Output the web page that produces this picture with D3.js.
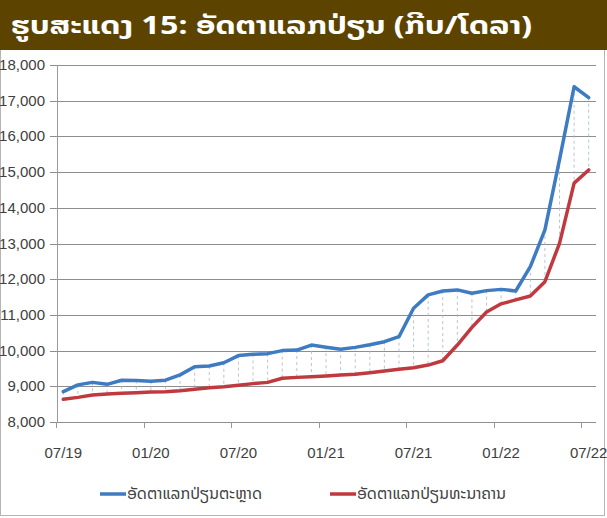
<!DOCTYPE html>
<html>
<head>
<meta charset="utf-8">
<script src="https://cdn.jsdelivr.net/npm/d3@7"></script>
<style>
  html, body { margin: 0; padding: 0; background: #fff; }
  svg { display: block; }
</style>
</head>
<body>
<svg id="chart" width="607" height="518"></svg>
<script>
const months = [
  "07/19","08/19","09/19","10/19","11/19","12/19",
  "01/20","02/20","03/20","04/20","05/20","06/20",
  "07/20","08/20","09/20","10/20","11/20","12/20",
  "01/21","02/21","03/21","04/21","05/21","06/21",
  "07/21","08/21","09/21","10/21","11/21","12/21",
  "01/22","02/22","03/22","04/22","05/22","06/22",
  "07/22"
];
const tickLabels = ["07/19", "01/20", "07/20", "01/21", "07/21", "01/22", "07/22"];

// market rate (blue)
const marketRate = [
  8850, 9040, 9110, 9055, 9170, 9160,
  9140, 9170, 9320, 9550, 9570, 9660,
  9860, 9895, 9915, 10000, 10015, 10155,
  10095, 10040, 10090, 10165, 10250, 10390,
  11185, 11560, 11670, 11700, 11605, 11680,
  11715, 11670, 12350, 13380, 15350, 17390,
  17085
];
// bank rate (red)
const bankRate = [
  8635, 8690, 8755, 8785, 8805, 8820,
  8840, 8845, 8875, 8915, 8960, 8990,
  9030, 9075, 9110, 9225, 9250, 9270,
  9290, 9315, 9335, 9380, 9430, 9475,
  9520, 9595, 9715, 10155, 10650, 11080,
  11310, 11420, 11530, 11930, 13005, 14690,
  15060
];
const yTicks = [8000, 9000, 10000, 11000, 12000, 13000, 14000, 15000, 16000, 17000, 18000];

const titleText = "ຮູບສະແດງ 15: ອັດຕາແລກປ່ຽນ (ກີບ/ໂດລາ)";
const seriesNames = ["ອັດຕາແລກປ່ຽນຕະຫຼາດ", "ອັດຕາແລກປ່ຽນທະນາຄານ"];
const blue = "#3d7bc2";
const red = "#c0393f";

const svg = d3.select("#chart");
const W = 607, H = 518;

// frame + title bar
svg.append("rect")
  .attr("x", 0.5).attr("y", 0.5)
  .attr("width", W - 3).attr("height", H - 3)
  .attr("fill", "#fff").attr("stroke", "#b5b5b5");

svg.append("rect")
  .attr("x", 0).attr("y", 0)
  .attr("width", W).attr("height", 50)
  .attr("fill", "#5c4400");

svg.append("text")
  .attr("x", 11).attr("y", 34)
  .attr("fill", "#fff")
  .attr("font-family", "'Noto Sans Lao', 'DejaVu Sans', sans-serif")
  .attr("font-weight", "bold")
  .attr("font-size", "25px")
  .attr("textLength", 521)
  .attr("lengthAdjust", "spacingAndGlyphs")
  .text(titleText);

// scales
const x = d3.scaleBand().domain(months).range([56, 596]);
const y = d3.scaleLinear().domain([8000, 18000]).range([422, 65]);
const cx = d => x(d) + x.bandwidth() / 2;

// gridlines
svg.append("g")
  .selectAll("line")
  .data(yTicks)
  .join("line")
  .attr("x1", 50).attr("x2", 596)
  .attr("y1", d => Math.round(y(d)) + 0.5)
  .attr("y2", d => Math.round(y(d)) + 0.5)
  .attr("stroke", "#8e8e8e")
  .attr("stroke-width", 1);

// y axis line
svg.append("line")
  .attr("x1", 57.5).attr("x2", 57.5)
  .attr("y1", y(18000)).attr("y2", y(8000))
  .attr("stroke", "#9a9a9a");

// y tick labels
svg.append("g")
  .selectAll("text")
  .data(yTicks)
  .join("text")
  .attr("x", 45)
  .attr("y", d => y(d) + 5)
  .attr("text-anchor", "end")
  .attr("font-family", "'Liberation Sans Narrow', 'Liberation Sans', sans-serif")
  .attr("font-size", "15px")
  .attr("fill", "#404040")
  .text(d => d3.format(",")(d));

// x ticks (between categories) every 6 months
svg.append("g")
  .selectAll("line")
  .data(tickLabels)
  .join("line")
  .attr("x1", d => Math.round(x(d)) + 0.5)
  .attr("x2", d => Math.round(x(d)) + 0.5)
  .attr("y1", y(8000)).attr("y2", y(8000) + 6)
  .attr("stroke", "#9a9a9a");

svg.append("g")
  .selectAll("text")
  .data(tickLabels)
  .join("text")
  .attr("x", d => cx(d))
  .attr("y", 458)
  .attr("text-anchor", "middle")
  .attr("font-family", "'Liberation Sans Narrow', 'Liberation Sans', sans-serif")
  .attr("font-size", "15px")
  .attr("fill", "#404040")
  .text(d => d);

// drop lines between the two series
svg.append("g")
  .selectAll("line")
  .data(months)
  .join("line")
  .attr("x1", d => cx(d)).attr("x2", d => cx(d))
  .attr("y1", (d, i) => y(marketRate[i]))
  .attr("y2", (d, i) => y(bankRate[i]))
  .attr("stroke", "#a9b4c4")
  .attr("stroke-width", 0.8)
  .attr("stroke-dasharray", "3,3");

// series lines
const line = d3.line().x(d => cx(d.m)).y(d => y(d.v));
const series = [
  { name: seriesNames[0], color: blue, values: marketRate },
  { name: seriesNames[1], color: red, values: bankRate }
];

series.slice().reverse().forEach(s => {
  svg.append("path")
    .datum(months.map((m, i) => ({ m, v: s.values[i] })))
    .attr("fill", "none")
    .attr("stroke", s.color)
    .attr("stroke-width", 3.5)
    .attr("stroke-linejoin", "round")
    .attr("stroke-linecap", "round")
    .attr("d", line);
});

// legend
const legendPos = [100, 330];
const legendTextLen = [135, 149];
const legend = svg.append("g")
  .selectAll("g")
  .data(series)
  .join("g")
  .attr("transform", (d, i) => `translate(${legendPos[i]}, 494)`);

legend.append("line")
  .attr("x1", 0).attr("x2", 26)
  .attr("y1", 0).attr("y2", 0)
  .attr("stroke", d => d.color)
  .attr("stroke-width", 3.5);

legend.append("text")
  .attr("x", 27).attr("y", 5)
  .attr("font-family", "'Noto Sans Lao', 'DejaVu Sans', sans-serif")
  .attr("font-size", "15px")
  .attr("fill", "#404040")
  .attr("textLength", (d, i) => legendTextLen[i])
  .attr("lengthAdjust", "spacingAndGlyphs")
  .text(d => d.name);
</script>
</body>
</html>
